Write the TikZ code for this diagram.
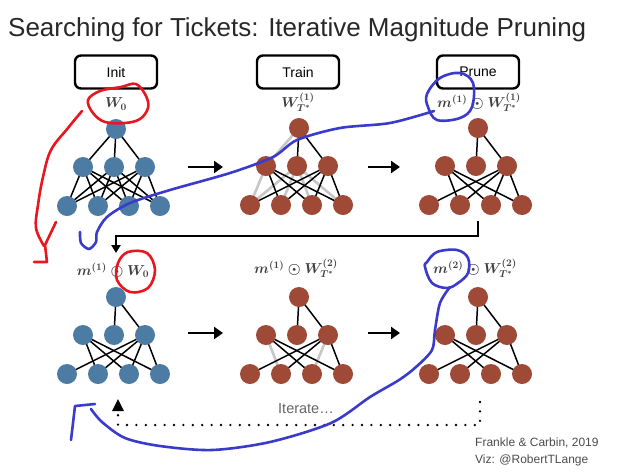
\documentclass[tikz,border=0pt]{standalone}
\usepackage{fontspec}
\setsansfont{Liberation Sans}
\usetikzlibrary{arrows.meta}
\pgfdeclarelayer{background}
\pgfsetlayers{background,main}
\definecolor{nblue}{RGB}{76,124,164}
\definecolor{nbrown}{RGB}{158,74,54}
\definecolor{redpen}{RGB}{232,22,30}
\definecolor{bluepen}{RGB}{58,58,205}
\definecolor{lblgray}{RGB}{64,64,64}
\definecolor{titlegray}{RGB}{40,40,40}
\tikzset{
  neuron/.style={circle, minimum size=20pt, inner sep=0pt, fill=#1},
  edgeb/.style={line width=1.5pt, black},
  edgew/.style={line width=2.6pt, black!22},
  stagebox/.style={draw, rounded corners=6pt, line width=2.4pt, minimum width=82pt, minimum height=33pt, font=\sffamily\fontsize{14}{16}\selectfont},
  flow/.style={line width=2.8pt, -{Triangle[length=9pt,width=12pt]}},
  lbl/.style={font=\fontsize{14}{16}\selectfont\boldmath, text=lblgray, inner sep=0pt},
  pen/.style={line width=2.6pt, line cap=round, line join=round},
  dots/.style={line width=2.6pt, line cap=round, dash pattern=on 0pt off 9.4pt},
  small/.style={font=\sffamily\fontsize{12}{15}\selectfont, text=black!70, inner sep=0pt, anchor=base west}
}
\newcommand\netnodes[4]{%
  \node[neuron=#4] (#1t)  at ({#2+2},{#3}) {};
  \node[neuron=#4] (#1m1) at ({#2-31},{#3+38}) {};
  \node[neuron=#4] (#1m2) at ({#2},{#3+38}) {};
  \node[neuron=#4] (#1m3) at ({#2+31},{#3+38}) {};
  \node[neuron=#4] (#1b1) at ({#2-47},{#3+77}) {};
  \node[neuron=#4] (#1b2) at ({#2-16},{#3+77}) {};
  \node[neuron=#4] (#1b3) at ({#2+15},{#3+77}) {};
  \node[neuron=#4] (#1b4) at ({#2+46},{#3+77}) {};
}
\newcommand\netedges[3]{%
  \foreach \a/\b in {#3} {\draw[#2] (#1\a.center) -- (#1\b.center);}
}
\begin{document}
\begin{tikzpicture}[x=1pt,y=-1pt]
\useasboundingbox (0,0) rectangle (620,475);

% title
\node[anchor=base west, inner sep=0pt, text=titlegray, font=\sffamily\fontsize{26}{30}\selectfont] (title) at (8,36) {Searching for Tickets: Iterative Magnitude Pruning};

% stage boxes
\node[stagebox] (init)  at (116,72) {Init};
\node[stagebox] (train) at (298,72) {Train};
\node[stagebox] (prune) at (478,72) {Prune};

% labels
\node[lbl] (l1) at (116,104) {$W_0$};
\node[lbl] (l2) at (298,102) {$W^{(1)}_{T^*}$};
\node[lbl] (l3) at (479,102) {$m^{(1)}\odot W^{(1)}_{T^*}$};
\node[lbl] (l4) at (113,270) {$m^{(1)}\odot W_0$};
\node[lbl] (l5) at (296,268) {$m^{(1)}\odot W^{(2)}_{T^*}$};
\node[lbl] (l6) at (475,268) {$m^{(2)}\odot W^{(2)}_{T^*}$};

% networks
\netnodes{a}{114}{129}{nblue}
\netnodes{b}{297}{128}{nbrown}
\netnodes{c}{476}{128}{nbrown}
\netnodes{d}{114}{297}{nblue}
\netnodes{e}{297}{297}{nbrown}
\netnodes{f}{476}{297}{nbrown}

\begin{pgfonlayer}{background}
\netedges{a}{edgeb}{t/m1,t/m2,t/m3,m1/b1,m1/b2,m1/b3,m1/b4,m2/b1,m2/b2,m2/b3,m2/b4,m3/b1,m3/b2,m3/b3,m3/b4}
\netedges{b}{edgew}{t/m1,m1/b1,m2/b1,m2/b2,m2/b3,m2/b4}
\netedges{b}{edgeb}{t/m2,t/m3,m1/b2,m1/b3,m1/b4,m3/b1,m3/b2,m3/b3,m3/b4}
\netedges{c}{edgeb}{t/m2,t/m3,m1/b2,m1/b3,m1/b4,m3/b1,m3/b2,m3/b3,m3/b4}
\netedges{d}{edgeb}{t/m2,t/m3,m1/b2,m1/b3,m1/b4,m3/b1,m3/b2,m3/b3,m3/b4}
\netedges{e}{edgew}{m1/b2,m3/b3}
\netedges{e}{edgeb}{t/m2,t/m3,m1/b3,m1/b4,m3/b1,m3/b2,m3/b4}
\netedges{f}{edgeb}{t/m2,t/m3,m1/b3,m1/b4,m3/b1,m3/b2,m3/b4}
\end{pgfonlayer}

% flow arrows
\coordinate (f1s) at (188,167); \coordinate (f1e) at (223,167);
\coordinate (f2s) at (368,167); \coordinate (f2e) at (400,167);
\coordinate (f3s) at (188,333); \coordinate (f3e) at (223,333);
\coordinate (f4s) at (368,333); \coordinate (f4e) at (400,333);
\draw[flow] (f1s) -- (f1e);
\draw[flow] (f2s) -- (f2e);
\draw[flow] (f3s) -- (f3e);
\draw[flow] (f4s) -- (f4e);

% reset connector
\coordinate (rs) at (478,221);
\coordinate (re) at (116,253);
\draw[line width=2pt, -{Triangle[length=8pt,width=9pt]}] (rs) -- (478,236) -- (116,236) -- (re);

% iterate loop
\coordinate (is) at (480,402);
\coordinate (ie) at (118,414);
\draw[dots] (is) -- (480,425) -- (118,425) -- (ie);
\fill (112,411) -- (124,411) -- (118,399) -- cycle;
\node[text=black!60, font=\sffamily\fontsize{14.5}{16}\selectfont, inner sep=0pt] (iter) at (306,409) {Iterate…};

% credits
\node[small] (cred1) at (475,446) {Frankle \& Carbin, 2019};
\node[small] (cred2) at (475,463) {Viz: @RobertTLange};

% red annotations
\draw[pen, redpen] plot[smooth cycle, tension=0.6] coordinates {(88,100) (100,91) (121,87) (136,84) (146,96) (148,108) (140,119) (125,123) (105,122) (93,113)};
\draw[pen, redpen] plot[smooth, tension=0.6] coordinates {(82,111) (68,128) (51,150) (43,177) (38,205) (36,228) (44,246)};
\draw[pen, redpen] (56,222) -- (45,245) -- (47,262) -- (34,262);
\draw[pen, redpen] plot[smooth cycle, tension=0.6] coordinates {(128,252) (147,253) (155,270) (148,288) (130,292) (117,280) (118,263)};

% blue annotations
\draw[pen, bluepen] plot[smooth cycle, tension=0.6] coordinates {(427,94) (440,78) (460,73) (473,83) (472,107) (460,118) (437,120) (428,107)};
\draw[pen, bluepen] plot[smooth, tension=0.5] coordinates {(434,111) (390,123) (340,128) (297,140) (273,157) (230,173) (170,190) (130,203) (107,217) (97,232) (96,242) (89,249) (81,243) (80,232)};
\draw[pen, bluepen] plot[smooth cycle, tension=0.6] coordinates {(427,262) (437,252) (457,250) (468,258) (468,273) (458,283) (447,288) (432,283) (425,267)};
\draw[pen, bluepen] plot[smooth, tension=0.5] coordinates {(450,287) (440,303) (435,330) (432,350) (416,367) (399,380) (370,397) (331,423) (270,442) (212,450) (160,446) (125,438) (102,422) (91,409)};
\draw[pen, bluepen] (71,440) -- (75,406) -- (95,404);
\end{tikzpicture}
\end{document}
